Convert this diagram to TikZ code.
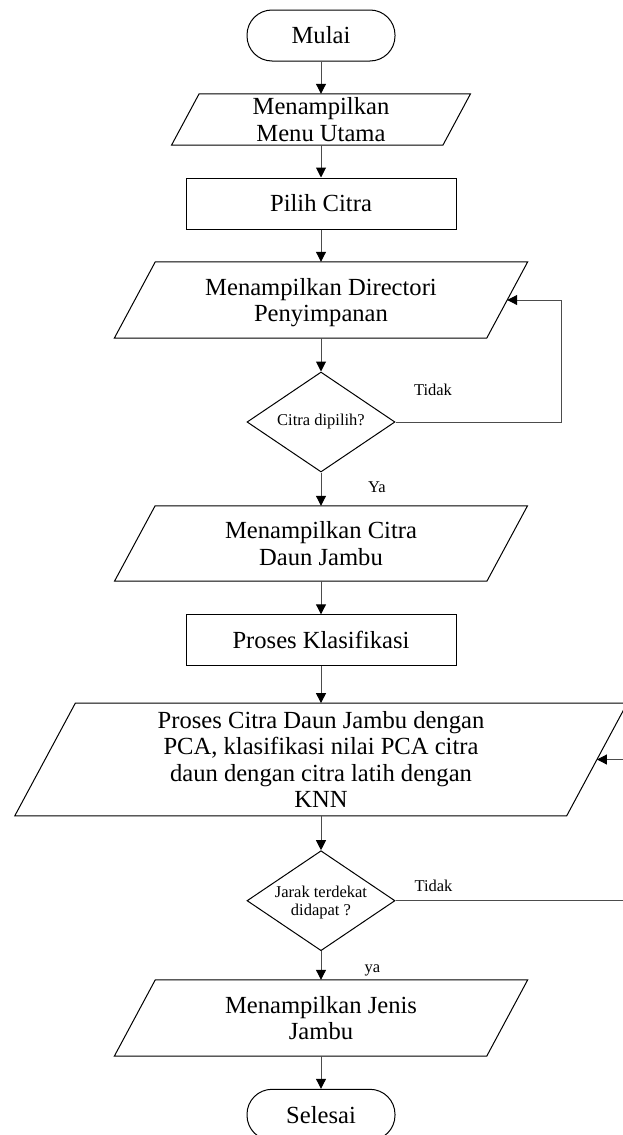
\documentclass[tikz,border=0pt]{standalone}
\usepackage{fontspec}
\setmainfont{Liberation Serif}
\usetikzlibrary{shapes.geometric,arrows.meta}

\begin{document}
\begin{tikzpicture}[x=1pt,y=-1pt,
  every node/.style={inner sep=0pt},
  outline/.style={draw=black, line width=1pt},
  bigtext/.style={font=\fontsize{24.6}{26.6}\selectfont, align=center},
  smalltext/.style={font=\fontsize{16.5}{18.7}\selectfont, align=center},
  term/.style={bigtext, outline, rectangle, rounded corners=25pt, minimum width=148pt, minimum height=51pt},
  procbox/.style={bigtext, outline, rectangle, minimum width=270pt, minimum height=51pt},
  iobox/.style={bigtext, rectangle},
  decision/.style={smalltext, outline, diamond, aspect=1.48, minimum width=148pt, minimum height=100pt},
  flow/.style={draw=black!70, line width=1pt, -{Triangle[length=10pt,width=10pt,color=black]}},
  answer/.style={smalltext, anchor=base}
]
\path[use as bounding box] (0,0) rectangle (623,1135);
\clip (0,0) rectangle (623,1135);

% main column
\node[term] (mulai) at (321,35.5) {Mulai};
\node[iobox, minimum width=271pt, minimum height=51pt] (p1) at (321,119.5) {Menampilkan\\Menu Utama};
\node[procbox] (pilih) at (321,203.5) {Pilih Citra};
\node[iobox, minimum width=372pt, minimum height=76pt, text depth=0pt] (p2) at (321,300) {Menampilkan Directori\\Penyimpanan};
\node[decision] (d1) at (321,422) {Citra dipilih?};
\node[iobox, minimum width=372pt, minimum height=75pt] (p3) at (321,543.5) {Menampilkan Citra\\Daun Jambu};
\node[procbox] (klas) at (321,640.3) {Proses Klasifikasi};
\node[iobox, minimum width=551.5pt, minimum height=112.4pt] (p4) at (321,759.5) {Proses Citra Daun Jambu dengan\\PCA, klasifikasi nilai PCA citra\\daun dengan citra latih dengan\\KNN};
\node[decision, text depth=0pt] (d2) at (321,900.7) {Jarak terdekat\\didapat ?};
\node[iobox, minimum width=372pt, minimum height=76pt] (p5) at (321,1018) {Menampilkan Jenis\\Jambu};
\node[term] (selesai) at (321,1114.8) {Selesai};

% slanted input/output outlines
\foreach \k/\s in {p1/13.8, p2/20.5, p3/20.3, p4/30.3, p5/20.5} {
  \draw[outline] ([xshift=\s]\k.north west) -- ([xshift=\s]\k.north east)
    -- ([xshift=-\s]\k.south east) -- ([xshift=-\s]\k.south west) -- cycle;
}

% straight flow
\draw[flow] (mulai) -- (p1);
\draw[flow] (p1) -- (pilih);
\draw[flow] (pilih) -- (p2);
\draw[flow] (p2) -- (d1);
\draw[flow] (d1) -- (p3);
\draw[flow] (p3) -- (klas);
\draw[flow] (klas) -- (p4);
\draw[flow] (p4) -- (d2);
\draw[flow] (d2) -- (p5);
\draw[flow] (p5) -- (selesai);

% loops back
\coordinate (l1) at (561,300);
\draw[flow] (d1.east) -| (l1) -- (p2.east);
\coordinate (l2) at (640,759.5);
\draw[flow] (d2.east) -| (l2) -- (p4.east);

% branch labels
\node[answer] (t1) at (433,395) {Tidak};
\node[answer] (y1) at (377,492.7) {Ya};
\node[answer] (t2) at (433.5,891.7) {Tidak};
\node[answer] (y2) at (372.5,972) {ya};
\end{tikzpicture}
\end{document}
